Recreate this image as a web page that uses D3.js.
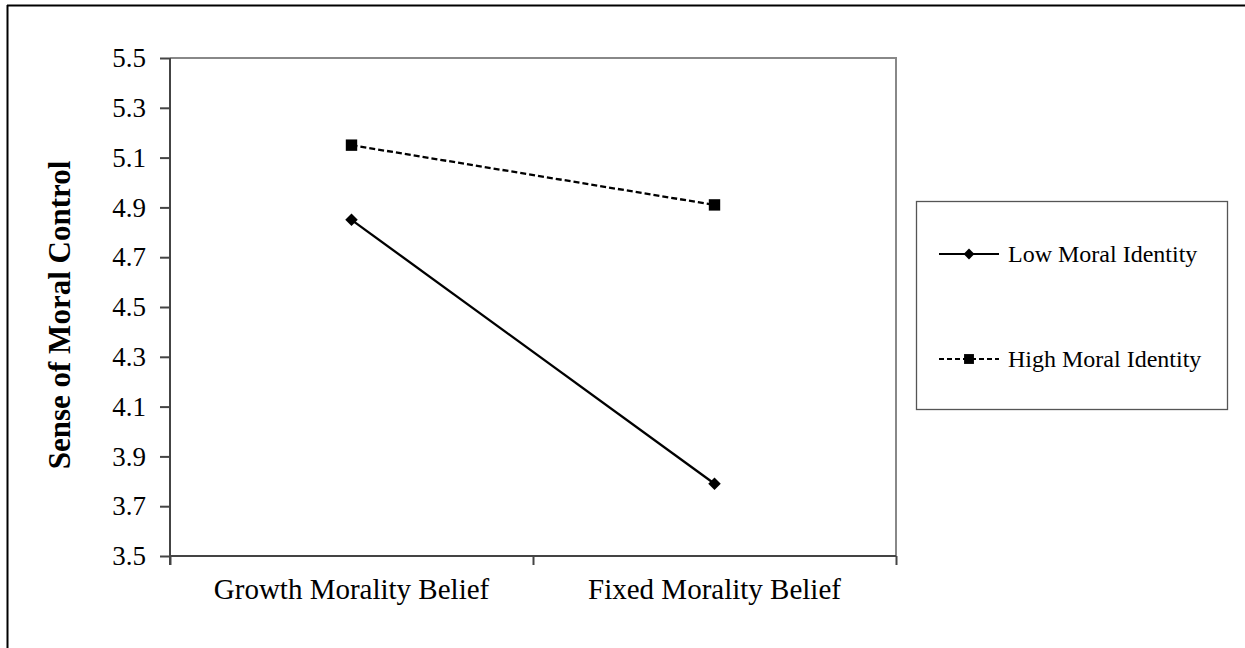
<!DOCTYPE html>
<html>
<head>
<meta charset="utf-8">
<script src="https://cdn.jsdelivr.net/npm/d3@7"></script>
<style>
html, body { margin: 0; padding: 0; background: #fff; }
svg { display: block; }
text { font-family: "Liberation Serif", "Times New Roman", serif; fill: #000; }
</style>
</head>
<body>
<svg id="chart" width="1245" height="648"></svg>
<script>
const categories = ["Growth Morality Belief", "Fixed Morality Belief"];
const seriesNames = ["Low Moral Identity", "High Moral Identity"];
const lowValues = [4.85, 3.79];
const highValues = [5.15, 4.91];
const yTicks = [3.5, 3.7, 3.9, 4.1, 4.3, 4.5, 4.7, 4.9, 5.1, 5.3, 5.5];
const yTitle = "Sense of Moral Control";

const series = [
  { name: seriesNames[0], values: lowValues, dash: null, symbol: "diamond" },
  { name: seriesNames[1], values: highValues, dash: "6,3", symbol: "square" }
];

const W = 1245, H = 648;
const plot = { left: 170, right: 896, top: 58, bottom: 556 };
const svg = d3.select("#chart");

// outer frame (left and top edges visible)
svg.append("line").attr("x1", 7.5).attr("x2", 7.5).attr("y1", 5).attr("y2", H)
  .attr("stroke", "#000").attr("stroke-width", 2);
svg.append("line").attr("x1", 7).attr("x2", W).attr("y1", 5.5).attr("y2", 5.5)
  .attr("stroke", "#000").attr("stroke-width", 2);

const x = d3.scaleBand().domain(categories).range([plot.left, plot.right]).padding(0);
const xEdge = d3.scaleLinear().domain([0, categories.length]).range([plot.left, plot.right]);
const y = d3.scaleLinear().domain([3.5, 5.5]).range([plot.bottom, plot.top]);

// plot border top & right (gray)
svg.append("path")
  .attr("d", `M${plot.left},${plot.top}H${plot.right}V${plot.bottom}`)
  .attr("fill", "none").attr("stroke", "#888").attr("stroke-width", 2);

// Y axis
const yAxis = svg.append("g").attr("transform", `translate(${plot.left},0)`)
  .call(d3.axisLeft(y).tickValues(yTicks).tickSize(10).tickPadding(14).tickFormat(d3.format(".1f")));
yAxis.selectAll("path, line").attr("stroke", "#444").attr("stroke-width", 2);
yAxis.select(".domain").attr("d", `M0,${plot.top}V${plot.bottom + 9}`);
yAxis.selectAll("text").style("font-family", "Liberation Serif").style("font-size", "27px").attr("fill", "#000");

// X axis: ticks at band edges
const xAxisTicks = svg.append("g").attr("transform", `translate(0,${plot.bottom})`)
  .call(d3.axisBottom(xEdge).tickValues(d3.range(categories.length + 1)).tickSize(9).tickFormat(""));
xAxisTicks.selectAll("path, line").attr("stroke", "#444").attr("stroke-width", 2);
xAxisTicks.select(".domain").attr("d", `M${plot.left},0H${plot.right}`);

// X labels at band centers
const xLabels = svg.append("g").attr("transform", `translate(0,${plot.bottom})`)
  .call(d3.axisBottom(x).tickSize(0).tickPadding(22));
xLabels.select(".domain").remove();
xLabels.selectAll("text").style("font-family", "Liberation Serif").style("font-size", "29px").attr("fill", "#000");

// Y title
svg.append("text")
  .attr("transform", `translate(70,${(plot.top + plot.bottom) / 2 + 8}) rotate(-90)`)
  .attr("text-anchor", "middle")
  .style("font-size", "31px").style("font-weight", "bold")
  .text(yTitle);

// lines
const cx = c => x(c) + x.bandwidth() / 2;
const line = d3.line().x((d, i) => cx(categories[i])).y(d => y(d));

function symbolPath(kind, scale) {
  if (kind === "square") return d3.symbol(d3.symbolSquare, 130 * scale)();
  return d3.symbol(d3.symbolSquare, 78 * scale)();
}

series.forEach(s => {
  svg.append("path").datum(s.values)
    .attr("d", line).attr("fill", "none").attr("stroke", "#000")
    .attr("stroke-width", 2.3).attr("stroke-dasharray", s.dash);
  svg.selectAll(null).data(s.values).enter().append("path")
    .attr("d", symbolPath(s.symbol, 1))
    .attr("transform", (d, i) => `translate(${cx(categories[i])},${y(d)})` + (s.symbol === "diamond" ? " rotate(45)" : ""))
    .attr("fill", "#000");
});

// legend
const lg = { x: 916, y: 201, w: 311, h: 208 };
svg.append("rect").attr("x", lg.x + 0.5).attr("y", lg.y + 0.5).attr("width", lg.w).attr("height", lg.h)
  .attr("fill", "#fff").attr("stroke", "#555").attr("stroke-width", 1.3);
const rowY = [254, 359];
series.forEach((s, i) => {
  const g = svg.append("g").attr("transform", `translate(${lg.x + 23},${rowY[i]})`);
  g.append("line").attr("x1", 0).attr("x2", 60).attr("y1", 0).attr("y2", 0)
    .attr("stroke", "#000").attr("stroke-width", 2).attr("stroke-dasharray", s.dash ? "5,3" : null);
  g.append("path").attr("d", symbolPath(s.symbol, 0.75))
    .attr("transform", `translate(30,0)` + (s.symbol === "diamond" ? " rotate(45)" : ""))
    .attr("fill", "#000");
  g.append("text").attr("x", 69).attr("y", 8).style("font-size", "24px").text(s.name);
});
</script>
</body>
</html>
